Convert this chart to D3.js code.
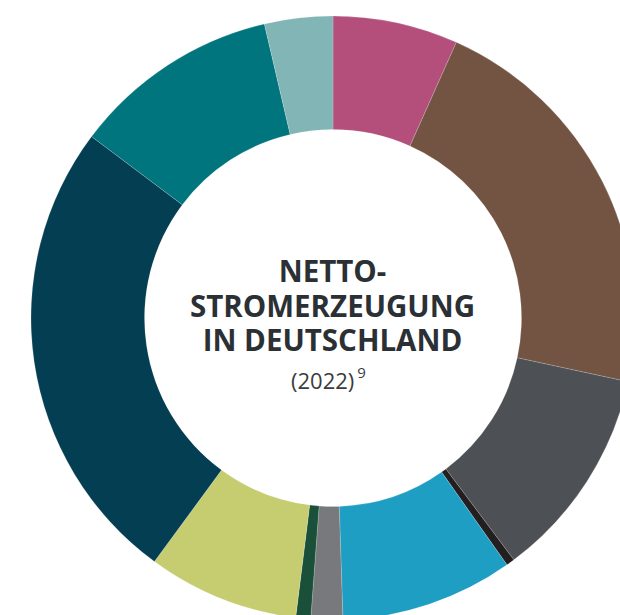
<!DOCTYPE html>
<html>
<head>
<meta charset="utf-8">
<script src="https://cdn.jsdelivr.net/npm/d3@7"></script>
<style>
  body { margin: 0; background: #fff; }
  svg { display: block; }
</style>
</head>
<body>
<div class="myViz"></div>
<script>
// Anteile an der Nettostromerzeugung 2022 (in %)
var sources = ["Kernenergie", "Braunkohle", "Steinkohle", "Mineralöl", "Erdgas", "Sonstige",
               "Pumpspeicher", "Biomasse", "Wind", "Photovoltaik", "Wasserkraft"];
var shares = [6.7, 21.7, 11.4, 0.45, 9.25, 1.7, 0.8, 8.1, 25.2, 11.1, 3.65];
var colors = ["#b44f7c", "#735443", "#4d5156", "#231f20", "#1f9ec4", "#77797d",
              "#1a5039", "#c6cd71", "#033e52", "#00757e", "#82b5b5"];
var titleLines = ["NETTO-", "STROMERZEUGUNG", "IN DEUTSCHLAND"];
var yearLabel = "(2022)";
var footnote = "9";

var width = 620, height = 615;
var cx = 333, cy = 318, outerR = 302, innerR = 188.5;

var svg = d3.select(".myViz")
  .append("svg")
  .attr("width", width)
  .attr("height", height);

var g = svg.append("g")
  .attr("transform", `translate(${cx}, ${cy})`);

var data = sources.map((s, i) => ({source: s, value: shares[i], color: colors[i]}));

var pie = d3.pie()
  .sort(null)
  .value(d => d.value);

var arc = d3.arc()
  .innerRadius(innerR)
  .outerRadius(outerR);

g.selectAll("path")
  .data(pie(data))
  .enter()
  .append("path")
    .attr("d", arc)
    .attr("fill", d => d.data.color)
    .attr("stroke", "#ffffff")
    .attr("stroke-opacity", 0.35)
    .attr("stroke-width", 0.5);

// Titel in der Mitte
var baselines = [281.7, 317.3, 350.5];
svg.selectAll(".title")
  .data(titleLines)
  .enter()
  .append("text")
    .attr("class", "title")
    .attr("x", cx - 0.5)
    .attr("y", (d, i) => baselines[i])
    .attr("text-anchor", "middle")
    .style("font-family", "'Open Sans', sans-serif")
    .style("font-weight", 700)
    .style("font-size", "29.5px")
    .style("fill", "#2b3035")
    .text(d => d);

var year = svg.append("text")
  .attr("x", 291)
  .attr("y", 389)
  .attr("text-anchor", "start")
  .style("font-family", "'Open Sans', sans-serif")
  .style("font-size", "22px")
  .style("fill", "#3a3d41");
year.append("tspan").text(yearLabel);
year.append("tspan")
  .attr("dx", 3)
  .attr("dy", -11)
  .style("font-size", "15px")
  .text(footnote);
</script>
</body>
</html>
